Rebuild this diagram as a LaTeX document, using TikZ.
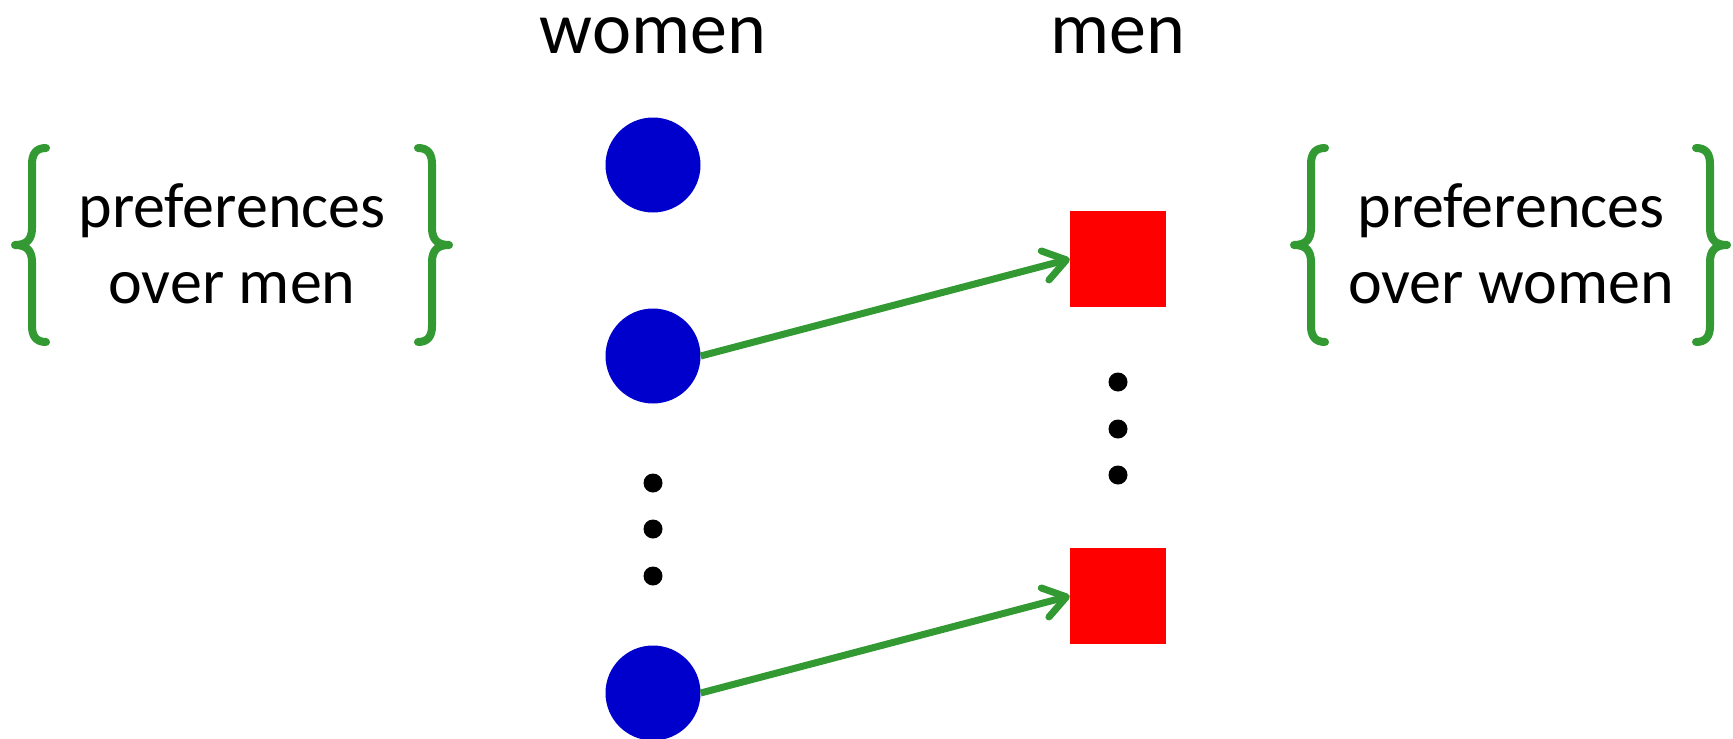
\documentclass[tikz,border=0pt]{standalone}
\usepackage{fontspec}
\setmainfont{Carlito}
\usetikzlibrary{arrows.meta}
\definecolor{wblue}{RGB}{0,0,204}
\definecolor{mred}{RGB}{255,0,0}
\definecolor{pgreen}{RGB}{51,153,51}
\begin{document}
\begin{tikzpicture}[x=1pt,y=-1pt,
  woman/.style={circle,fill=wblue,minimum size=95pt,inner sep=0pt},
  man/.style={rectangle,fill=mred,minimum size=96pt,inner sep=0pt},
  dotnode/.style={circle,fill=black,minimum size=19pt,inner sep=0pt},
  title/.style={font=\fontsize{74}{88}\selectfont,anchor=base},
  pref/.style={font=\fontsize{64}{76}\selectfont,anchor=base},
  bracestyle/.style={draw=pgreen,line width=8pt,line cap=round,line join=round},
  match/.style={draw=pgreen,line width=7pt,-{Straight Barb[length=22pt,width=30pt,round]}}]
\useasboundingbox (0,0) rectangle (1733,739);
\node[title] (tw) at (653,53) {women};
\node[title] (tm) at (1118,53) {men};
\node[woman] (w1) at (653,165) {};
\node[woman] (w2) at (653,356) {};
\node[woman] (w3) at (653,693) {};
\node[dotnode] (ld1) at (653,483) {};
\node[dotnode] (ld2) at (653,529) {};
\node[dotnode] (ld3) at (653,576) {};
\node[man] (m1) at (1118,259) {};
\node[man] (m2) at (1118,596) {};
\node[dotnode] (rd1) at (1118,382) {};
\node[dotnode] (rd2) at (1118,429) {};
\node[dotnode] (rd3) at (1118,475) {};
\draw[match] (w2.east) -- (m1.west);
\draw[match] (w3.east) -- (m2.west);
% left preferences
\node[pref] (lp1) at (232,227) {preferences};
\node[pref] (lp2) at (232,303) {over men};
\draw[bracestyle] (46,148) .. controls (36,148) and (32,154) .. (32,164) -- (32,228)
  .. controls (32,240) and (26,245) .. (15,245)
  .. controls (26,245) and (32,250) .. (32,262) -- (32,326)
  .. controls (32,336) and (36,342) .. (46,342);
\draw[bracestyle] (418,148) .. controls (428,148) and (432,154) .. (432,164) -- (432,228)
  .. controls (432,240) and (438,245) .. (449,245)
  .. controls (438,245) and (432,250) .. (432,262) -- (432,326)
  .. controls (432,336) and (428,342) .. (418,342);
% right preferences
\node[pref] (rp1) at (1511,227) {preferences};
\node[pref] (rp2) at (1511,303) {over women};
\draw[bracestyle] (1325,148) .. controls (1315,148) and (1311,154) .. (1311,164) -- (1311,228)
  .. controls (1311,240) and (1305,245) .. (1294,245)
  .. controls (1305,245) and (1311,250) .. (1311,262) -- (1311,326)
  .. controls (1311,336) and (1315,342) .. (1325,342);
\draw[bracestyle] (1696,148) .. controls (1706,148) and (1710,154) .. (1710,164) -- (1710,228)
  .. controls (1710,240) and (1716,245) .. (1727,245)
  .. controls (1716,245) and (1710,250) .. (1710,262) -- (1710,326)
  .. controls (1710,336) and (1706,342) .. (1696,342);
\end{tikzpicture}
\end{document}
